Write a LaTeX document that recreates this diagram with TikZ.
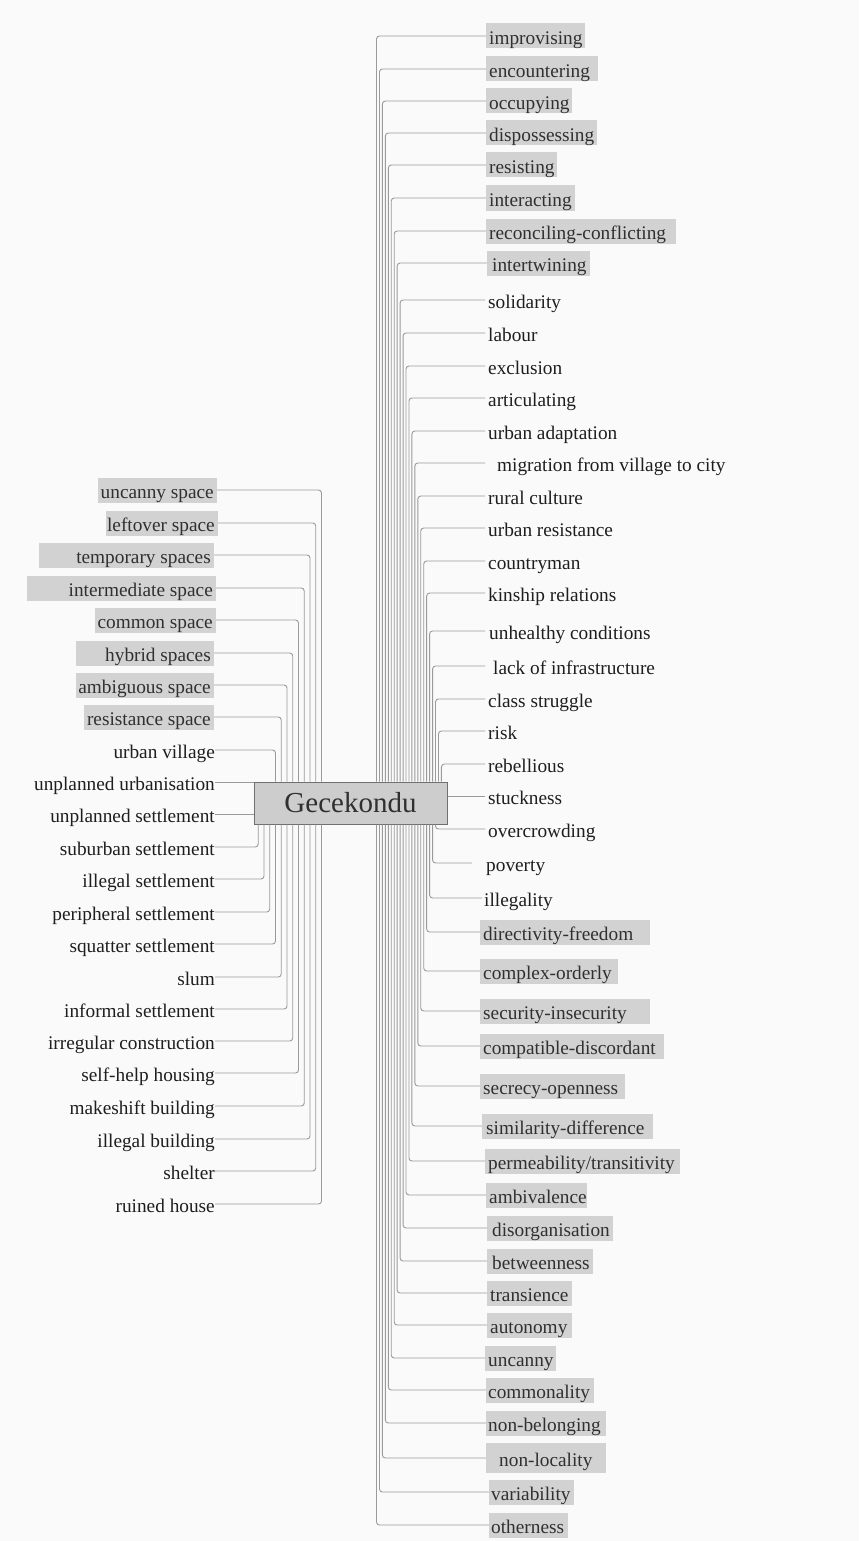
\documentclass[tikz,border=0pt]{standalone}
\usepackage{fontspec}
\setmainfont{Liberation Serif}
\definecolor{bg}{HTML}{FAFAFA}
\definecolor{boxgray}{HTML}{D2D2D2}
\definecolor{linegray}{HTML}{9A9A9A}
\definecolor{txtdark}{HTML}{1E1E1E}
\definecolor{txtbox}{HTML}{303030}
\definecolor{centerfill}{HTML}{CDCDCD}
\definecolor{centerdraw}{HTML}{707070}
\newcommand\labfont{\fontsize{19.3}{23}\selectfont}
% right labels
\newcommand\rbox[6]{\node[rlab, fill=boxgray, text=txtbox] (#1) at (#3,#2) {\hbox to \dimexpr#5pt-#3pt\relax{\hskip\dimexpr#4pt-#3pt\relax #6\hfil}};}
\newcommand\rtxt[5]{\node[rlab] (#1) at (#3,#2) {\hskip\dimexpr#4pt-#3pt\relax #5\hskip2pt};}
% left labels
\newcommand\lbox[5]{\node[llab, fill=boxgray, text=txtbox] (#1) at (#4,#2) {\hbox to \dimexpr#4pt-#3pt\relax{\hfil #5\hskip3pt}};}
\newcommand\ltxt[3]{\node[llab] (#1) at (215,#2) {#3\hskip2pt};}
\tikzset{
  rlab/.style={anchor=west, inner xsep=0pt, inner ysep=0pt, text height=21pt, text depth=4pt, font=\labfont, text=txtdark},
  llab/.style={anchor=east, inner xsep=0pt, inner ysep=0pt, text height=21pt, text depth=4pt, font=\labfont, text=txtdark},
  conn/.style={draw=linegray, line width=0.9pt, rounded corners=3pt},
  central/.style={fill=centerfill, draw=centerdraw, line width=1pt, minimum width=193pt, minimum height=42pt, inner sep=0pt, font=\fontsize{29}{34}\selectfont, text=txtbox}
}
\begin{document}
\begin{tikzpicture}[x=1pt, y=-1pt]
\fill[bg] (0,0) rectangle (859,1541);
\useasboundingbox (0,0) rectangle (859,1541);

\node[central] (G) at (350.5,803) {Gecekondu};

% right side
\rbox{r0}{36}{486}{489}{585}{improvising}
\rbox{r1}{69}{486}{489}{598}{encountering}
\rbox{r2}{101}{486}{489}{572}{occupying}
\rbox{r3}{133}{486}{489}{597}{dispossessing}
\rbox{r4}{165}{486}{489}{557}{resisting}
\rbox{r5}{198}{486}{489}{575}{interacting}
\rbox{r6}{231}{486}{489}{676}{reconciling-conflicting}
\rbox{r7}{263}{487}{492}{590}{intertwining}
\rtxt{r8}{300}{485}{488}{solidarity}
\rtxt{r9}{333}{485}{488}{labour}
\rtxt{r10}{366}{485}{488}{exclusion}
\rtxt{r11}{398}{485}{488}{articulating}
\rtxt{r12}{431}{485}{488}{urban adaptation}
\rtxt{r13}{463}{485}{497}{migration from village to city}
\rtxt{r14}{496}{485}{488}{rural culture}
\rtxt{r15}{528}{485}{488}{urban resistance}
\rtxt{r16}{561}{485}{488}{countryman}
\rtxt{r17}{593}{485}{488}{kinship relations}
\rtxt{r18}{631}{485}{489}{unhealthy conditions}
\rtxt{r19}{666}{485}{493}{lack of infrastructure}
\rtxt{r20}{699}{485}{488}{class struggle}
\rtxt{r21}{731}{485}{488}{risk}
\rtxt{r22}{764}{485}{488}{rebellious}
\rtxt{r23}{796}{485}{488}{stuckness}
\rtxt{r24}{829}{485}{488}{overcrowding}
\rtxt{r25}{863}{472}{486}{poverty}
\rtxt{r26}{898}{482}{484}{illegality}
\rbox{r27}{932}{480}{483}{650}{directivity-freedom}
\rbox{r28}{971}{480}{483}{618}{complex-orderly}
\rbox{r29}{1011}{480}{483}{650}{security-insecurity}
\rbox{r30}{1046}{480}{483}{664}{compatible-discordant}
\rbox{r31}{1086}{480}{483}{625}{secrecy-openness}
\rbox{r32}{1126}{482}{486}{653}{similarity-difference}
\rbox{r33}{1161}{485}{488}{680}{permeability/transitivity}
\rbox{r34}{1195}{486}{489}{587}{ambivalence}
\rbox{r35}{1228}{487}{492}{613}{disorganisation}
\rbox{r36}{1261}{487}{492}{593}{betweenness}
\rbox{r37}{1293}{487}{490}{572}{transience}
\rbox{r38}{1325}{487}{490}{572}{autonomy}
\rbox{r39}{1358}{485}{488}{556}{uncanny}
\rbox{r40}{1390}{486}{488}{594}{commonality}
\rbox{r41}{1423}{486}{488}{606}{non-belonging}
\node[rlab, fill=boxgray, text=txtbox, minimum height=30pt] (r42) at (486,1458) {\hbox to 120pt{\hskip13pt non-locality\hfil}};
\rbox{r43}{1492}{489}{491}{574}{variability}
\rbox{r44}{1525}{489}{491}{568}{otherness}

% left side
\lbox{l0}{490}{98}{217}{uncanny space}
\lbox{l1}{523}{106}{218}{leftover space}
\lbox{l2}{555}{39}{214}{temporary spaces}
\lbox{l3}{588}{27}{216}{intermediate space}
\lbox{l4}{620}{95}{216}{common space}
\lbox{l5}{653}{76}{214}{hybrid spaces}
\lbox{l6}{685}{76}{214}{ambiguous space}
\lbox{l7}{717}{84}{214}{resistance space}
\ltxt{l8}{750}{urban village}
\ltxt{l9}{782}{unplanned urbanisation}
\ltxt{l10}{814}{unplanned settlement}
\ltxt{l11}{847}{suburban settlement}
\ltxt{l12}{879}{illegal settlement}
\ltxt{l13}{912}{peripheral settlement}
\ltxt{l14}{944}{squatter settlement}
\ltxt{l15}{977}{slum}
\ltxt{l16}{1009}{informal settlement}
\ltxt{l17}{1041}{irregular construction}
\ltxt{l18}{1073}{self-help housing}
\ltxt{l19}{1106}{makeshift building}
\ltxt{l20}{1139}{illegal building}
\ltxt{l21}{1171}{shelter}
\ltxt{l22}{1204}{ruined house}

% connectors right
\foreach \i in {0,...,22}
  \draw[conn] ([xshift={123+2.95*\i}]G.north west) |- (r\i.west);
\draw[conn] (G.east |- r23.west) -- (r23.west);
\foreach \i in {24,...,44}
  \draw[conn] ([xshift={123+2.95*(44-\i)}]G.south west) |- (r\i.west);

% connectors left
\foreach \j in {0,...,8}
  \draw[conn] (l\j.east) -| ([xshift={68-5.75*\j}]G.north west);
\draw[conn] (l9.east) -- (l9.east -| G.west);
\draw[conn] (l10.east) -- (l10.east -| G.west);
\foreach \j in {11,...,22}
  \draw[conn] (l\j.east) -| ([xshift={68-5.75*(22-\j)}]G.south west);
\end{tikzpicture}
\end{document}
